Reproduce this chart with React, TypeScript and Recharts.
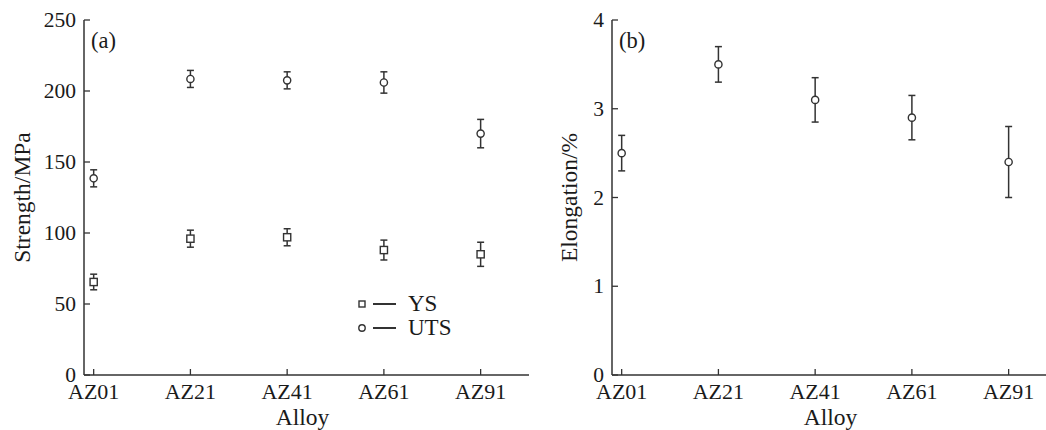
import React from 'react';
import { ScatterChart, Scatter, XAxis, YAxis, ErrorBar, Legend } from 'recharts';

const alloys = ['AZ01', 'AZ21', 'AZ41', 'AZ61', 'AZ91'];
const alloyPositions = [0, 1, 2, 3, 4];
const ysValues = [65.5, 96, 97, 88, 85];
const ysErrors = [5.5, 6, 6, 7, 8.5];
const utsValues = [138.5, 208.5, 207.5, 206, 170];
const utsErrors = [6, 6, 6, 7.5, 10];
const elongValues = [2.5, 3.5, 3.1, 2.9, 2.4];
const elongErrors = [0.2, 0.2, 0.25, 0.25, 0.4];
const strengthTicks = [0, 50, 100, 150, 200, 250];
const elongTicks = [0, 1, 2, 3, 4];
const legendOrder = ['YS', 'UTS'];

const ysData = alloys.map((a, i) => ({ x: alloyPositions[i], name: a, y: ysValues[i], err: ysErrors[i] }));
const utsData = alloys.map((a, i) => ({ x: alloyPositions[i], name: a, y: utsValues[i], err: utsErrors[i] }));
const elongData = alloys.map((a, i) => ({ x: alloyPositions[i], name: a, y: elongValues[i], err: elongErrors[i] }));

const FONT = 'Liberation Serif, Tinos, Times New Roman, serif';
const INK = '#333';
const TEXT = '#1a1a1a';
const X_DOMAIN: [number, number] = [-0.1, 4.5];

const XTick = (props: any) => {
  const { x, y, payload } = props;
  return (
    <g>
      <line x1={x} y1={y} x2={x} y2={y - 6} stroke={INK} strokeWidth={1.3} />
      <text x={x} y={y + 24} textAnchor="middle" style={{ fontFamily: FONT, fontSize: 22 }} fill={TEXT}>
        {alloys[payload.value]}
      </text>
    </g>
  );
};

const YTick = (props: any) => {
  const { x, y, payload } = props;
  return (
    <g>
      <line x1={x} y1={y} x2={x + 6} y2={y} stroke={INK} strokeWidth={1.3} />
      <text x={x - 8} y={y + 7} textAnchor="end" style={{ fontFamily: FONT, fontSize: 21.5 }} fill={TEXT}>
        {payload.value}
      </text>
    </g>
  );
};

const CircleShape = (props: any) => (
  <circle cx={props.cx} cy={props.cy} r={3.6} fill="#fff" stroke={INK} strokeWidth={1.4} />
);
const SquareShape = (props: any) => (
  <rect x={props.cx - 3.6} y={props.cy - 3.6} width={7.2} height={7.2} fill="#fff" stroke={INK} strokeWidth={1.4} />
);

const yLabel = (text: string, dx: number, panel: string) => (p: any) => {
  const vb = p.viewBox;
  const cx = vb.x + dx;
  const cy = vb.y + vb.height / 2;
  return (
    <g>
      <text x={cx} y={cy} transform={`rotate(-90, ${cx}, ${cy})`} textAnchor="middle" dominantBaseline="central"
        style={{ fontFamily: FONT, fontSize: 23.5 }} fill={TEXT}>{text}</text>
      <text x={vb.x + vb.width + 7} y={vb.y + 28} style={{ fontFamily: FONT, fontSize: 22.5 }} fill={TEXT}>{panel}</text>
    </g>
  );
};

const xLabel = (text: string) => (p: any) => {
  const vb = p.viewBox;
  return (
    <text x={vb.x + vb.width / 2 - 4} y={vb.y + 50} textAnchor="middle" style={{ fontFamily: FONT, fontSize: 23.5 }} fill={TEXT}>
      {text}
    </text>
  );
};

const renderLegend = (props: any) => {
  const items = [...(props.payload || [])].sort(
    (a: any, b: any) => legendOrder.indexOf(a.value) - legendOrder.indexOf(b.value)
  );
  return (
    <div style={{ fontFamily: FONT, fontSize: 23, color: TEXT }}>
      {items.map((entry: any) => (
        <div key={entry.value} style={{ display: 'flex', alignItems: 'center', height: 24 }}>
          <svg width={48} height={24} style={{ display: 'block' }}>
            {entry.value === 'YS' ? (
              <rect x={5} y={9} width={6} height={6} fill="#fff" stroke={INK} strokeWidth={1.4} />
            ) : (
              <circle cx={8} cy={12} r={3.2} fill="#fff" stroke={INK} strokeWidth={1.4} />
            )}
            <line x1={19} y1={12} x2={42} y2={12} stroke={INK} strokeWidth={2} />
          </svg>
          <span style={{ marginLeft: 6, lineHeight: '24px' }}>{entry.value}</span>
        </div>
      ))}
    </div>
  );
};

const axisLine = { stroke: INK, strokeWidth: 1.5 };

export default function App() {
  return (
    <div style={{ position: 'fixed', left: 0, top: 0, width: 1046, height: 430, overflow: 'hidden', background: '#fff' }}>
      <div style={{ position: 'absolute', left: 0, top: 0 }}>
        <ScatterChart width={540} height={430} margin={{ top: 20, right: 11, bottom: 0, left: 0 }}>
          <XAxis type="number" dataKey="x" domain={X_DOMAIN} ticks={alloyPositions} interval={0} allowDataOverflow
            height={55} tickSize={0} tickMargin={0} tickLine={false} axisLine={axisLine} tick={<XTick />}
            label={{ content: xLabel('Alloy') }} />
          <XAxis xAxisId="top" orientation="top" type="number" domain={X_DOMAIN} allowDataOverflow height={0}
            tick={false} tickLine={false} axisLine={axisLine} />
          <YAxis type="number" dataKey="y" domain={[0, 250]} ticks={strengthTicks} interval={0} allowDataOverflow
            width={84} tickSize={0} tickMargin={0} tickLine={false} axisLine={axisLine} tick={<YTick />}
            label={{ content: yLabel('Strength/MPa', 22, '(a)') }} />
          <YAxis yAxisId="right" orientation="right" type="number" domain={[0, 250]} allowDataOverflow width={0}
            tick={false} tickLine={false} axisLine={axisLine} />
          <Legend layout="vertical" align="center" verticalAlign="middle" content={renderLegend}
            wrapperStyle={{ left: 354, top: 292, width: 120 }} />
          <Scatter name="YS" data={ysData} shape={<SquareShape />} isAnimationActive={false}>
            <ErrorBar dataKey="err" direction="y" width={3.5} stroke={INK} strokeWidth={1.5} />
          </Scatter>
          <Scatter name="UTS" data={utsData} shape={<CircleShape />} isAnimationActive={false}>
            <ErrorBar dataKey="err" direction="y" width={3.5} stroke={INK} strokeWidth={1.5} />
          </Scatter>
        </ScatterChart>
      </div>
      <div style={{ position: 'absolute', left: 530, top: 0 }}>
        <ScatterChart width={538} height={430} margin={{ top: 20, right: 11, bottom: 0, left: 0 }}>
          <XAxis type="number" dataKey="x" domain={X_DOMAIN} ticks={alloyPositions} interval={0} allowDataOverflow
            height={55} tickSize={0} tickMargin={0} tickLine={false} axisLine={axisLine} tick={<XTick />}
            label={{ content: xLabel('Alloy') }} />
          <XAxis xAxisId="top" orientation="top" type="number" domain={X_DOMAIN} allowDataOverflow height={0}
            tick={false} tickLine={false} axisLine={axisLine} />
          <YAxis type="number" dataKey="y" domain={[0, 4]} ticks={elongTicks} interval={0} allowDataOverflow
            width={82} tickSize={0} tickMargin={0} tickLine={false} axisLine={axisLine} tick={<YTick />}
            label={{ content: yLabel('Elongation/%', 39, '(b)') }} />
          <YAxis yAxisId="right" orientation="right" type="number" domain={[0, 4]} allowDataOverflow width={0}
            tick={false} tickLine={false} axisLine={axisLine} />
          <Scatter name="Elongation" data={elongData} shape={<CircleShape />} isAnimationActive={false}>
            <ErrorBar dataKey="err" direction="y" width={3.5} stroke={INK} strokeWidth={1.5} />
          </Scatter>
        </ScatterChart>
      </div>
    </div>
  );
}
